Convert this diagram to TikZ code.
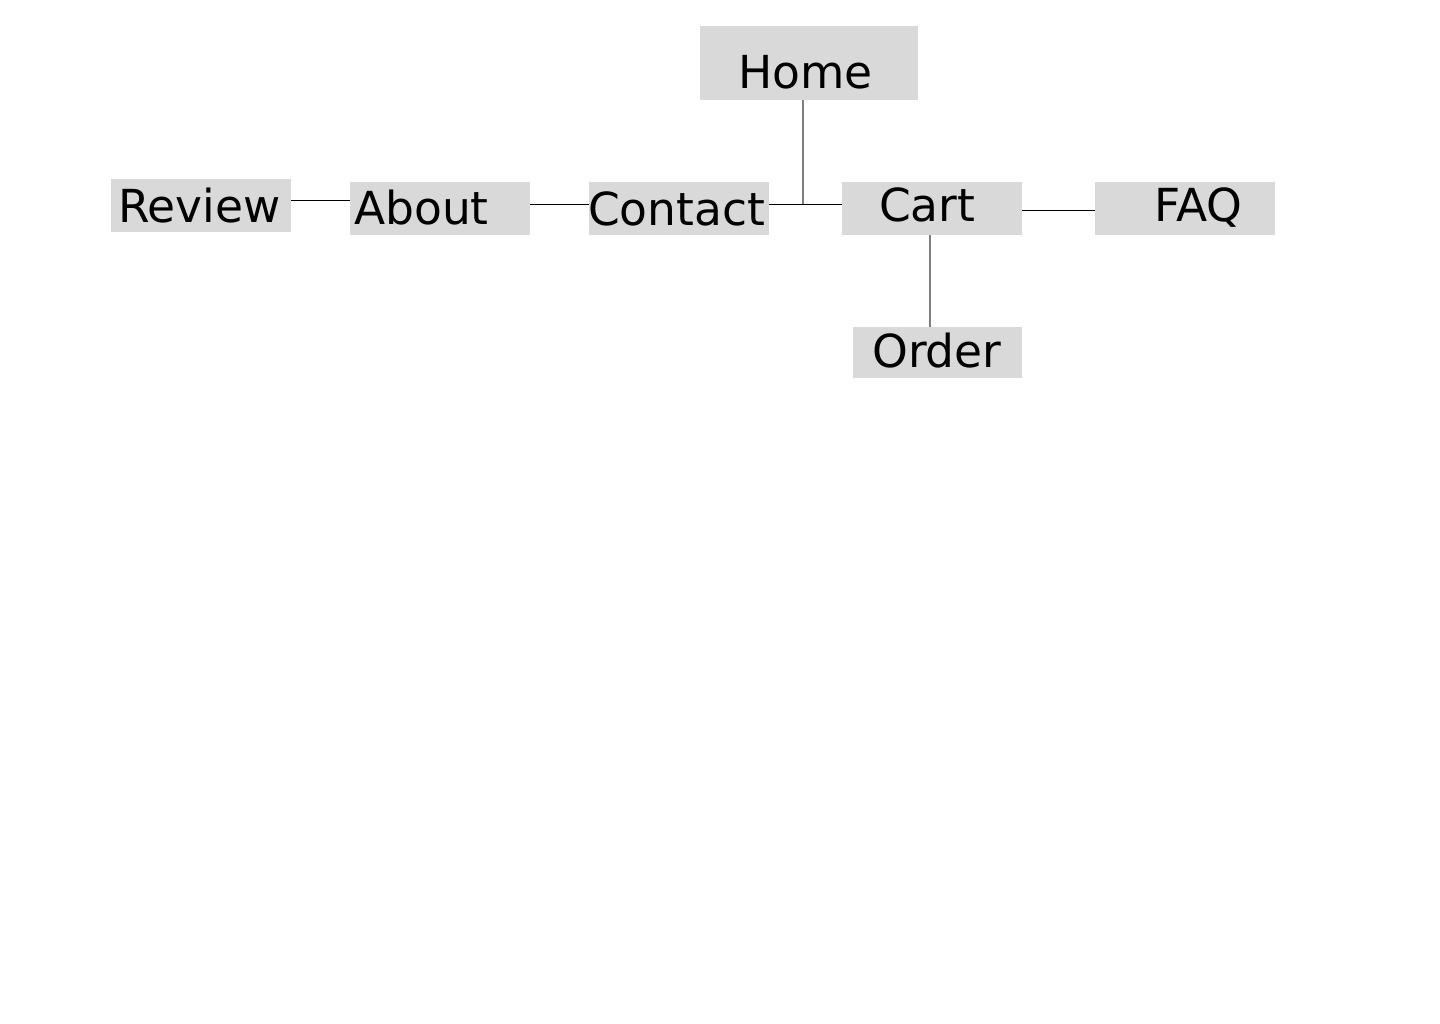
\documentclass[tikz,border=0pt]{standalone}
\usepackage{fontspec}
\setmainfont{DejaVu Sans}
\begin{document}
\begin{tikzpicture}[x=1pt,y=-1pt,
  box/.style={fill=boxgray,draw=none,inner sep=0pt,anchor=north west},
  lbl/.style={inner sep=0pt,anchor=base west,font=\fontsize{45.5}{50}\selectfont},
  link/.style={draw=black,line width=1pt},
  glink/.style={draw=linegray,line width=1.6pt}]
\definecolor{boxgray}{HTML}{D9D9D9}
\definecolor{linegray}{HTML}{808080}
\useasboundingbox[fill=white] (0,0) rectangle (1440,1024);
% boxes
\node[box,minimum width=218pt,minimum height=74pt] (home) at (700,26) {};
\node[box,minimum width=180pt,minimum height=53pt] (review) at (111,179) {};
\node[box,minimum width=180pt,minimum height=53pt] (about) at (350,182) {};
\node[box,minimum width=180pt,minimum height=53pt] (contact) at (589,182) {};
\node[box,minimum width=180pt,minimum height=53pt] (cart) at (842,182) {};
\node[box,minimum width=180pt,minimum height=53pt] (faq) at (1095,182) {};
\node[box,minimum width=169pt,minimum height=51pt] (order) at (853,327) {};
% connectors
\draw[link] (review.east |- 0,201) -- (about.west |- 0,201);
\draw[link] (about.east |- 0,205) -- (contact.west |- 0,205);
\draw[link] (contact.east |- 0,205) coordinate (cj) -- (cart.west |- 0,205);
\draw[glink] (home.south -| 803,0) -- (803,204);
\draw[link] (cart.east |- 0,211) -- (faq.west |- 0,211);
\draw[glink] (cart.south -| 930,0) -- (order.north -| 930,0);
% labels
\node[lbl] (thome) at (738,89) {Home};
\node[lbl] (treview) at (118,223) {Review};
\node[lbl] (tabout) at (354,225) {About};
\node[lbl] (tcontact) at (588,226) {Contact};
\node[lbl] (tcart) at (879,222) {Cart};
\node[lbl] (tfaq) at (1154,222) {FAQ};
\node[lbl] (torder) at (872,367) {Order};
\end{tikzpicture}
\end{document}
